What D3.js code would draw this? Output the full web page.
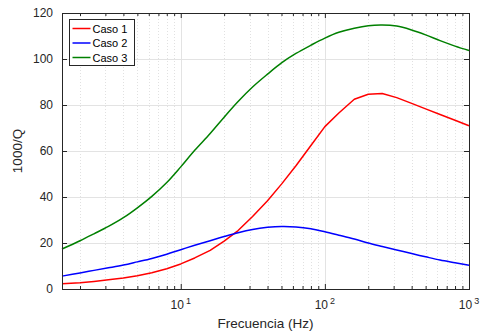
<!DOCTYPE html>
<html>
<head>
<meta charset="utf-8">
<script src="https://cdn.jsdelivr.net/npm/d3@7"></script>
<style>
  html, body { margin: 0; padding: 0; background: #fff; }
  svg { display: block; font-family: "Liberation Sans", Arial, Helvetica, sans-serif; }
</style>
</head>
<body>
<svg id="chart" width="481" height="335"></svg>
<script>
// Frequencies (Hz), one-third-octave style sampling
const frequencies = [1.5, 2, 2.5, 3.15, 4, 5, 6.3, 8, 10, 12.5, 16, 20, 25, 31.5, 40, 50, 63, 80,
                     100, 125, 160, 200, 250, 315, 400, 500, 630, 800, 1000];

// 1000/Q for each case
const caso1 = [2.3, 2.75, 3.3, 4.0, 4.8, 5.8, 7.1, 8.8, 10.9, 13.5, 16.8, 20.8, 25.4, 31.5, 38.4, 45.6, 53.6, 62.4,
               70.6, 76.5, 82.5, 84.7, 85.0, 83.2, 80.7, 78.3, 75.9, 73.4, 71.0];
const caso2 = [5.6, 7.0, 8.1, 9.2, 10.4, 11.8, 13.3, 15.1, 17.1, 19.0, 21.0, 22.8, 24.5, 25.9, 26.8, 27.2, 27.0, 26.2,
               24.9, 23.4, 21.7, 20.0, 18.5, 17.0, 15.4, 14.0, 12.6, 11.4, 10.3];
const caso3 = [17.4, 21.0, 24.0, 27.2, 31.0, 35.3, 40.3, 46.3, 53.1, 60.3, 67.6, 74.7, 81.5, 87.8, 93.4, 98.3, 102.4, 106.0,
               109.1, 111.6, 113.4, 114.5, 114.8, 114.3, 112.6, 110.5, 108.0, 105.6, 103.7];

const seriesNames = ["Caso 1", "Caso 2", "Caso 3"];
const seriesColors = ["#ff0000", "#0000ff", "#008000"];
const seriesValues = [caso1, caso2, caso3];
// Caso 1 is drawn point to point, the other two as smooth curves
const seriesCurves = [d3.curveLinear, d3.curveCatmullRom, d3.curveCatmullRom];

const xDomain = [1.5, 1000];
const yDomain = [0, 120];
const yTicks = [0, 20, 40, 60, 80, 100, 120];
const xMajorTicks = [10, 100, 1000];
const xTickExponents = ["1", "2", "3"];

const W = 481, H = 335;
const margin = { top: 13, right: 12, bottom: 46, left: 62 };
const iw = W - margin.left - margin.right;
const ih = H - margin.top - margin.bottom;

const axisColor = "#262626";
const svg = d3.select("#chart");
const g = svg.append("g").attr("transform", `translate(${margin.left},${margin.top})`);

const x = d3.scaleLog().domain(xDomain).range([0, iw]);
const y = d3.scaleLinear().domain(yDomain).range([ih, 0]);

// minor log ticks 2..9 per decade
const minorTicks = [];
for (let dec = 1; dec <= 100; dec *= 10) {
  for (let k = 1; k <= 9; k++) {
    const v = k * dec;
    if (v >= xDomain[0] && v <= xDomain[1] && !xMajorTicks.includes(v)) minorTicks.push(v);
  }
}

// grid: dotted minor, solid major
g.append("g").selectAll("line").data(minorTicks).join("line")
  .attr("x1", d => Math.round(x(d)) + 0.5).attr("x2", d => Math.round(x(d)) + 0.5)
  .attr("y1", 0).attr("y2", ih)
  .attr("stroke", "#d9d9d9").attr("stroke-width", 0.8).attr("stroke-dasharray", "1,2");

g.append("g").selectAll("line").data(xMajorTicks).join("line")
  .attr("x1", d => Math.round(x(d)) + 0.5).attr("x2", d => Math.round(x(d)) + 0.5)
  .attr("y1", 0).attr("y2", ih)
  .attr("stroke", "#e3e3e3").attr("stroke-width", 1);

g.append("g").selectAll("line").data(yTicks).join("line")
  .attr("x1", 0).attr("x2", iw)
  .attr("y1", d => Math.round(y(d)) + 0.5).attr("y2", d => Math.round(y(d)) + 0.5)
  .attr("stroke", "#e3e3e3").attr("stroke-width", 1);

// data lines
seriesValues.forEach((vals, si) => {
  const line = d3.line()
    .x((d, i) => x(frequencies[i]))
    .y(d => y(d))
    .curve(seriesCurves[si]);
  g.append("path")
    .datum(vals)
    .attr("fill", "none")
    .attr("stroke", seriesColors[si])
    .attr("stroke-width", 1.5)
    .attr("stroke-linejoin", "round")
    .attr("d", line);
});

// axes (ticks pointing inward, mirrored on top/right)
const bottomAxis = d3.axisBottom(x).tickValues(xMajorTicks).tickSize(-5).tickFormat("");
const bottomMinor = d3.axisBottom(x).tickValues(minorTicks).tickSize(-3).tickFormat("");
const topAxis = d3.axisTop(x).tickValues(xMajorTicks).tickSize(-5).tickFormat("");
const topMinor = d3.axisTop(x).tickValues(minorTicks).tickSize(-3).tickFormat("");
const leftAxis = d3.axisLeft(y).tickValues(yTicks).tickSize(-5).tickPadding(9).tickFormat(d3.format("d"));
const rightAxis = d3.axisRight(y).tickValues(yTicks).tickSize(-5).tickFormat("");

function styleAxis(sel) {
  sel.select(".domain").attr("stroke", axisColor);
  sel.selectAll(".tick line").attr("stroke", axisColor);
  sel.selectAll(".tick text").attr("fill", axisColor).attr("font-size", 12)
     .attr("font-family", "Liberation Sans, Arial, Helvetica, sans-serif");
}

g.append("g").attr("transform", `translate(0,${ih})`).call(bottomMinor).call(styleAxis);
g.append("g").attr("transform", `translate(0,${ih})`).call(bottomAxis).call(styleAxis);
g.append("g").call(topMinor).call(styleAxis);
g.append("g").call(topAxis).call(styleAxis);
g.append("g").call(leftAxis).call(styleAxis);
g.append("g").attr("transform", `translate(${iw},0)`).call(rightAxis).call(styleAxis);

// x tick labels as powers of ten
const xl = g.append("g").selectAll("text").data(xMajorTicks).join("text")
  .attr("x", d => x(d))
  .attr("y", ih + 20)
  .attr("text-anchor", "middle")
  .attr("fill", axisColor)
  .attr("font-size", 12);
xl.append("tspan").text("10");
xl.append("tspan").attr("dy", -5).attr("font-size", 9).attr("dx", 2).text((d, i) => xTickExponents[i]);

// axis titles
g.append("text")
  .attr("x", iw / 2).attr("y", ih + 39)
  .attr("text-anchor", "middle")
  .attr("fill", axisColor)
  .attr("font-size", 13.5)
  .text("Frecuencia (Hz)");

g.append("text")
  .attr("transform", `translate(${-40},${ih / 2}) rotate(-90)`)
  .attr("text-anchor", "middle")
  .attr("fill", axisColor)
  .attr("font-size", 13.5)
  .text("1000/Q");

// legend
const legend = g.append("g").attr("transform", "translate(7.5,6.5)");
legend.append("rect")
  .attr("width", 65).attr("height", 46)
  .attr("fill", "#fff").attr("stroke", axisColor).attr("stroke-width", 1);
seriesNames.forEach((name, i) => {
  const cy = 9 + i * 14.5;
  legend.append("line")
    .attr("x1", 3).attr("x2", 21).attr("y1", cy).attr("y2", cy)
    .attr("stroke", seriesColors[i]).attr("stroke-width", 1.5);
  legend.append("text")
    .attr("x", 23).attr("y", cy + 4)
    .attr("fill", "#000")
    .attr("font-size", 11)
    .text(name);
});
</script>
</body>
</html>
